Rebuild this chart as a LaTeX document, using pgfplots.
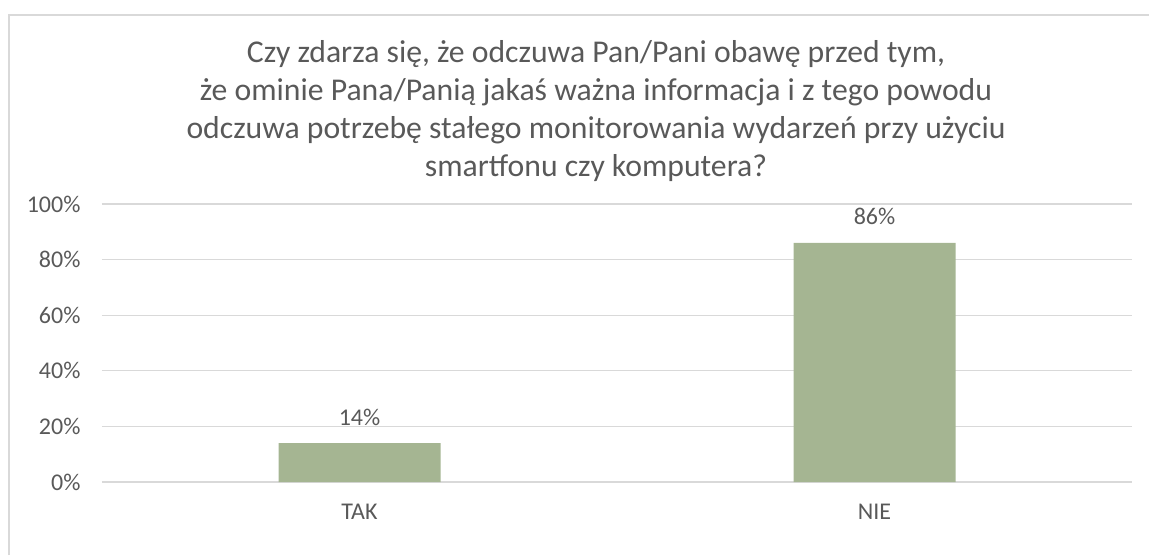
\documentclass[border=0pt]{standalone}
\usepackage{fontspec}
\setmainfont{Carlito}
\usepackage{pgfplots}
\pgfplotsset{compat=1.18}
\definecolor{barc}{HTML}{A5B592}
\definecolor{txt}{HTML}{595959}
\definecolor{gridc}{HTML}{D9D9D9}
\begin{document}
\begin{tikzpicture}[x=1pt,y=1pt]
\useasboundingbox (0,0) rectangle (1149,555);
\draw[gridc, line width=1.5pt] (9,0) -- (9,540) -- (1149,540);
\begin{scope}[font=\fontsize{31.7}{38}\selectfont, text=txt]
\node[anchor=base] at (596,492) {Czy zdarza się, że odczuwa Pan/Pani obawę przed tym,};
\node[anchor=base] at (596,454) {że ominie Pana/Panią jakaś ważna informacja i z tego powodu};
\node[anchor=base] at (596,416) {odczuwa potrzebę stałego monitorowania wydarzeń przy użyciu};
\node[anchor=base] at (596,378) {smartfonu czy komputera?};
\end{scope}
\begin{axis}[
  at={(102pt,73pt)}, anchor=south west,
  scale only axis, width=1030pt, height=278pt,
  xmin=-0.5, xmax=1.5, ymin=0, ymax=100,
  axis line style={draw=none},
  major tick style={draw=none},
  ymajorgrids, grid style={gridc, line width=1.3pt},
  ytick={0,20,40,60,80,100},
  yticklabels={0\%,20\%,40\%,60\%,80\%,100\%},
  xtick={0,1}, xticklabels={TAK,NIE},
  tick label style={font=\fontsize{24}{28}\selectfont, text=txt},
  yticklabel style={anchor=east, xshift=-18pt},
  xticklabel style={anchor=base, yshift=-33pt},
  ybar, bar width=162pt,
  nodes near coords, point meta=explicit symbolic,
  every node near coord/.append style={font=\fontsize{24}{28}\selectfont, text=txt, anchor=base, yshift=18pt},
]
\addplot[fill=barc, draw=none] coordinates {(0,14) [14\%] (1,86) [86\%]};
\end{axis}
\end{tikzpicture}
\end{document}
